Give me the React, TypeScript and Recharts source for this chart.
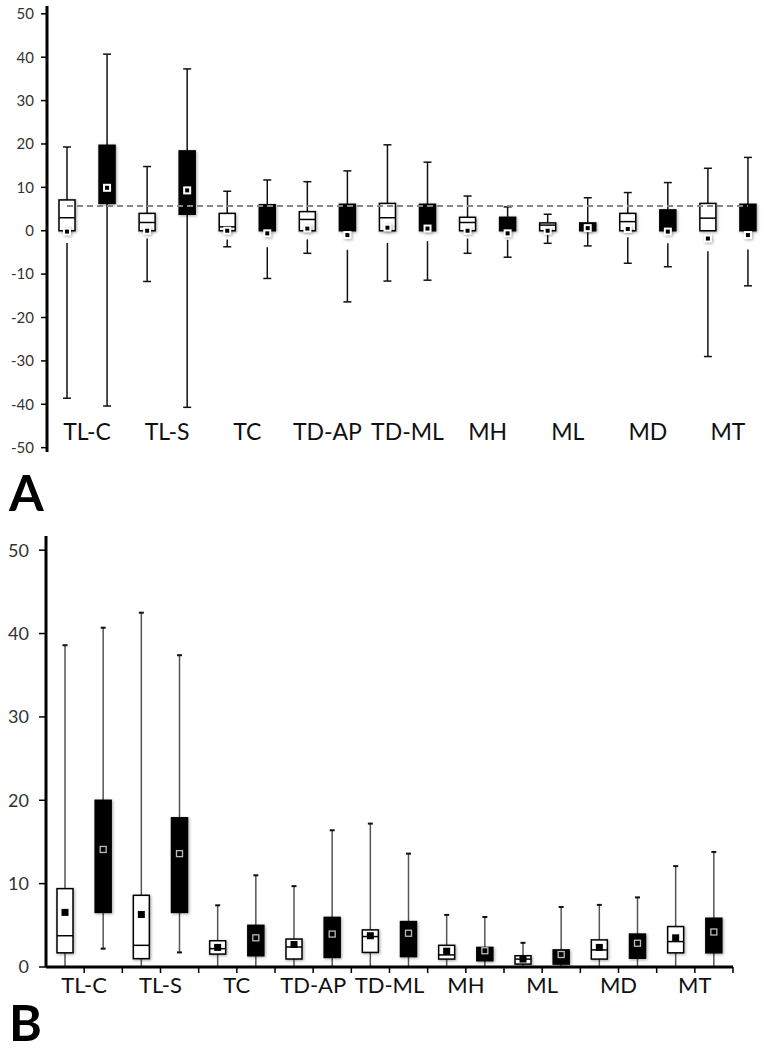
import React from 'react';
import { ComposedChart, Bar, XAxis, YAxis, ReferenceLine } from 'recharts';

const groups = ['TL-C', 'TL-S', 'TC', 'TD-AP', 'TD-ML', 'MH', 'ML', 'MD', 'MT'];

// panel A: 18 boxes, white / black alternating inside each group
const aMax = [19.3, 40.7, 14.8, 37.3, 9.1, 11.7, 11.3, 13.8, 19.8, 15.8, 8.0, 5.5, 3.8, 7.6, 8.8, 11.1, 14.4, 16.9];
const aQ3 = [7.1, 19.7, 4.0, 18.4, 4.0, 6.0, 4.4, 6.1, 6.3, 6.1, 3.1, 3.1, 1.8, 1.8, 4.0, 4.8, 6.3, 6.1];
const aMed = [3.0, null, 1.9, null, 0.9, null, 2.6, null, 3.0, null, 1.9, null, 1.3, null, 2.1, null, 2.9, null];
const aQ1 = [0, 6.3, 0, 3.8, 0, 0, 0, 0, 0, 0, 0, 0, 0, 0, 0, 0, 0, 0];
const aMean = [-0.2, 9.9, 0, 9.3, 0, -0.6, 0.5, -1.0, 0.7, 0.5, 0, -0.6, 0, 0.6, 0.4, -0.2, -1.8, -1.0];
const aLow = [-2.8, 6.3, -1.8, 3.8, -2.0, -3.8, -2.0, -4.4, -2.8, -2.4, -1.8, -2.1, -1.0, 0, -1.5, -2.9, -4.7, -4.3];
const aMin = [-38.6, -40.4, -11.7, -40.7, -3.7, -11.0, -5.2, -16.4, -11.6, -11.4, -5.2, -6.1, -2.9, -3.5, -7.5, -8.3, -29.0, -12.7];
const aTicks = [-50, -40, -30, -20, -10, 0, 10, 20, 30, 40, 50];
const aRef = 5.7;

// panel B
const bMax = [38.6, 40.7, 42.5, 37.4, 7.4, 11.0, 9.7, 16.4, 17.2, 13.6, 6.25, 6.0, 2.9, 7.2, 7.45, 8.35, 12.1, 13.8];
const bQ3 = [9.4, 20.0, 8.6, 17.9, 3.15, 5.0, 3.35, 5.95, 4.45, 5.45, 2.6, 2.35, 1.35, 2.05, 3.25, 3.95, 4.85, 5.85];
const bMed = [3.75, null, 2.6, null, 2.2, null, 2.4, null, 3.65, null, 1.45, null, 0.95, null, 2.05, null, 3.05, null];
const bQ1 = [1.7, 6.55, 1.0, 6.55, 1.55, 1.35, 0.96, 1.15, 1.75, 1.25, 0.95, 0.75, 0.35, 0.35, 0.95, 1.05, 1.7, 1.7];
const bMean = [6.55, 14.1, 6.3, 13.6, 2.35, 3.5, 2.7, 3.95, 3.75, 4.05, 1.9, 1.95, 0.95, 1.5, 2.35, 2.85, 3.5, 4.2];
const bMin = [0, 2.2, 0, 1.75, 0, 0, 0, 0, 0, 0, 0, 0, 0, 0, 0, 0, 0, 0];
const bTicks = [0, 10, 20, 30, 40, 50];

const FONT = 'Lato, "Open Sans", sans-serif';

function buildBoxes(max: number[], q3: number[], med: (number | null)[], q1: number[], mean: number[], low: number[], min: number[]) {
  return max.map((m, i) => ({
    key: 'b' + i,
    range: [min[i], m],
    q1: q1[i],
    q3: q3[i],
    med: med[i],
    mean: mean[i],
    low: low[i],
    dark: i % 2 === 1,
  }));
}

const boxesA = buildBoxes(aMax, aQ3, aMed, aQ1, aMean, aLow, aMin);
const boxesB = buildBoxes(bMax, bQ3, bMed, bQ1, bMean, bQ1, bMin);

const shadow = { filter: 'drop-shadow(1px 1px 1.5px rgba(0,0,0,0.35))' };

function makeBoxShape(panel: 'A' | 'B') {
  return (props: any) => {
    const { x, y, width, height, payload } = props;
    const [lo, hi] = payload.range;
    const top = Math.min(y, y + height);
    const bottom = Math.max(y, y + height);
    const k = (bottom - top) / (hi - lo);
    const py = (v: number) => top + (hi - v) * k;
    const cx = x + width / 2;
    const wColor = panel === 'A' ? '#111' : '#555';
    const capW = panel === 'A' ? 4 : 2.5;
    const yMax = py(hi);
    const yMin = py(lo);
    const yQ3 = py(payload.q3);
    const yQ1 = py(payload.q1);
    const yLow = py(payload.low);
    const yMean = py(payload.mean);
    return (
      <g>
        <line x1={cx} x2={cx} y1={yMax} y2={yQ3} stroke={wColor} strokeWidth={1.5} />
        <line x1={cx - capW} x2={cx + capW} y1={yMax} y2={yMax} stroke="#111" strokeWidth={panel === 'A' ? 1.5 : 2} />
        {payload.low > lo && (
          <>
            <line x1={cx} x2={cx} y1={yLow} y2={yMin} stroke={wColor} strokeWidth={1.5} />
            <line x1={cx - capW} x2={cx + capW} y1={yMin} y2={yMin} stroke="#111" strokeWidth={panel === 'A' ? 1.5 : 2} />
          </>
        )}
        <rect
          x={x}
          y={yQ3}
          width={width}
          height={Math.max(yQ1 - yQ3, 1)}
          fill={payload.dark ? '#000' : '#fff'}
          stroke="#000"
          strokeWidth={1.5}
          style={shadow}
        />
        {payload.med != null && (
          <line x1={x} x2={x + width} y1={py(payload.med)} y2={py(payload.med)} stroke="#000" strokeWidth={1.5} />
        )}
        {panel === 'A' ? (
          <g>
            <rect x={cx - 4} y={yMean - 4} width={8} height={8} fill="#fff" style={shadow} />
            <rect x={cx - 2} y={yMean - 2} width={4} height={4} fill="#000" />
          </g>
        ) : payload.dark ? (
          <rect x={cx - 3} y={yMean - 3} width={6} height={6} fill="#000" stroke="#bbb" strokeWidth={1.3} />
        ) : (
          <rect x={cx - 3.5} y={yMean - 3.5} width={7} height={7} fill="#000" />
        )}
      </g>
    );
  };
}

const TickA = (props: any) => {
  const { x, y, payload, index } = props;
  if (index % 2 !== 0) return <g />;
  const off = payload?.offset ?? 0;
  return (
    <text x={x + off} y={y - 12} textAnchor="middle" fontSize={23} fontFamily={FONT} fill="#111">
      {groups[index / 2]}
    </text>
  );
};

const TickB = (props: any) => {
  const { x, y, payload, index } = props;
  const off = payload?.offset ?? 0;
  return (
    <g>
      <line x1={x + off} x2={x + off} y1={y} y2={y + 6} stroke="#000" strokeWidth={1.5} />
      {index % 2 === 0 && (
        <text x={x + off} y={y + 26} textAnchor="middle" fontSize={22} fontFamily={FONT} fill="#111">
          {groups[index / 2]}
        </text>
      )}
    </g>
  );
};

export default function App() {
  return (
    <div style={{ position: 'absolute', left: 0, top: 0, width: 768, height: 1052, background: '#fff', fontFamily: FONT, overflow: 'hidden' }}>
      <ComposedChart width={768} height={482} data={boxesA} margin={{ top: 6, right: 0, bottom: 0, left: 0 }} barSize={16}>
        <YAxis
          type="number"
          domain={[-51, 51.8]}
          ticks={aTicks}
          width={47}
          axisLine={{ stroke: '#000', strokeWidth: 3 }}
          tickLine={{ stroke: '#000', strokeWidth: 1.5 }}
          tickSize={6}
          tickMargin={7}
          tick={{ fontSize: 15, fill: '#333', fontFamily: FONT }}
        />
        <XAxis dataKey="key" height={30} axisLine={false} tickLine={false} tickSize={0} tickMargin={0} interval={0} tick={<TickA />} />
        <Bar dataKey="range" isAnimationActive={false} shape={makeBoxShape('A')} />
        <ReferenceLine
          segment={[{ x: 'b0', y: aRef }, { x: 'b17', y: aRef }]}
          stroke="#888"
          strokeWidth={1.8}
          strokeDasharray="6 4"
        />
      </ComposedChart>
      <div style={{ position: 'absolute', left: 9, top: 462, fontSize: 50, fontWeight: 700, lineHeight: 1.2, color: '#000' }}>A</div>
      <div style={{ position: 'absolute', left: 0, top: 530 }}>
        <ComposedChart width={768} height={477} data={boxesB} margin={{ top: 6, right: 35, bottom: 0, left: 0 }} barSize={16}>
          <YAxis
            type="number"
            domain={[0, 51.7]}
            ticks={bTicks}
            width={46}
            axisLine={{ stroke: '#000', strokeWidth: 3 }}
            tickLine={{ stroke: '#000', strokeWidth: 1.5 }}
            tickSize={7}
            tickMargin={10}
            tick={{ fontSize: 18, fill: '#333', fontFamily: FONT }}
          />
          <XAxis
            dataKey="key"
            height={40}
            axisLine={{ stroke: '#000', strokeWidth: 3 }}
            tickLine={false}
            tickSize={0}
            tickMargin={0}
            interval={0}
            tick={<TickB />}
          />
          <Bar dataKey="range" isAnimationActive={false} shape={makeBoxShape('B')} />
        </ComposedChart>
      </div>
      <div style={{ position: 'absolute', left: 9, top: 992, fontSize: 50, fontWeight: 700, lineHeight: 1.2, color: '#000' }}>B</div>
    </div>
  );
}
